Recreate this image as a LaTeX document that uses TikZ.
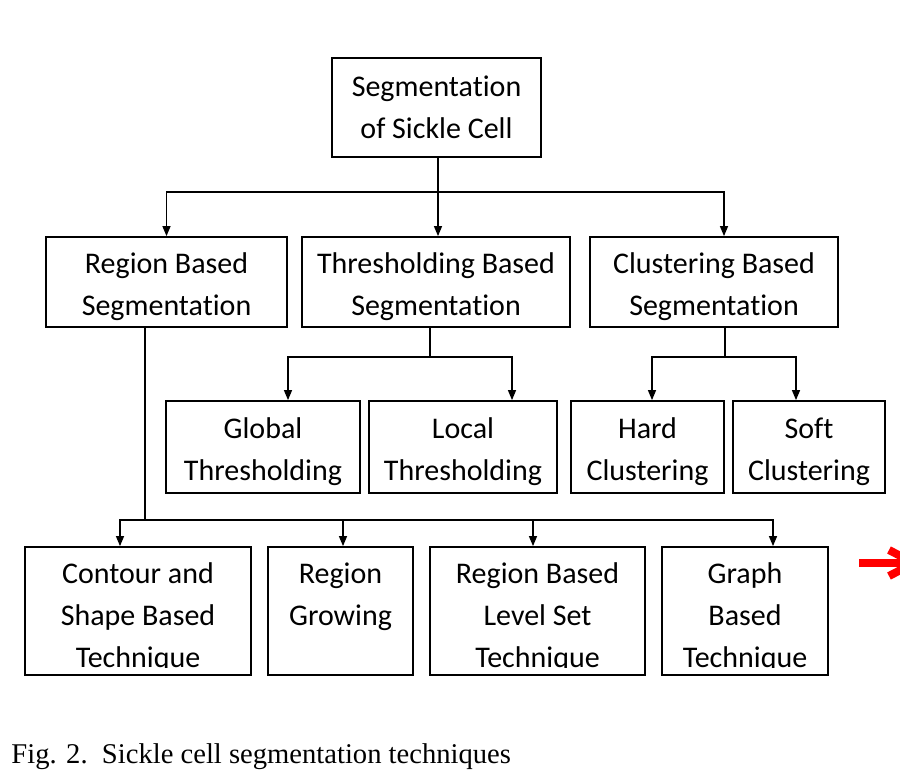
\documentclass[tikz,border=0pt]{standalone}
\usepackage{fontspec}
\setmainfont{Carlito}[Ligatures=NoCommon]
\newfontfamily\capfont{Liberation Serif}
\usetikzlibrary{positioning, arrows.meta}

\begin{document}
\begin{tikzpicture}[x=0.5pt, y=-0.5pt,
                    box/.style={draw, line width=0.9pt, align=center, inner sep=0pt, font=\fontsize{15pt}{21pt}\selectfont},
                    txt/.style={align=center, inner sep=0pt, font=\fontsize{15pt}{21pt}\selectfont},
                    link/.style={line width=0.65pt},
                    arr/.style={line width=0.65pt, -{Triangle[length=5pt, width=4pt]}}]
                    \useasboundingbox (0,0) rectangle (900,778);

                    % Nodes
                    \node[box, minimum width=104.5pt, minimum height=49.5pt] (seg) at (436.5,107.5) {Segmentation\\of Sickle Cell};

                    \node[box, minimum width=120.5pt, minimum height=45pt] (rbs) at (166.5,282) {\strut Region Based\\Segmentation};
                    \node[box, minimum width=134pt, minimum height=45pt] (tbs) at (436,282) {\strut Thresholding Based\\Segmentation};
                    \node[box, minimum width=124pt, minimum height=45pt] (cbs) at (714,282) {\strut Clustering Based\\Segmentation};

                    \node[box, minimum width=97pt, minimum height=46pt] (glt) at (263,447) {\strut Global\\Thresholding};
                    \node[box, minimum width=94pt, minimum height=46pt] (lot) at (463,447) {\strut Local\\Thresholding};
                    \node[box, minimum width=76.5pt, minimum height=46pt] (hdc) at (647.5,447) {\strut Hard\\Clustering};
                    \node[box, minimum width=76pt, minimum height=46pt] (sfc) at (809,447) {\strut Soft\\Clustering};

                    \node[box, minimum width=113pt, minimum height=64pt] (cst) at (138,611) {};
                    \node[box, minimum width=72.5pt, minimum height=64pt] (rgr) at (340.5,611) {};
                    \node[box, minimum width=107.5pt, minimum height=64pt] (rls) at (537.5,611) {};
                    \node[box, minimum width=83pt, minimum height=64pt] (grb) at (745,611) {};

                    % texts of the last row, cut at the bottom
                    \begin{scope}
                    \clip (0,540) rectangle (900,667);
                    \node[txt] (cst-t) at (138,617) {\strut Contour and\\Shape Based\\Technique\strut};
                    \node[txt] (rgr-t) at (340.5,617) {\strut Region\\Growing\\\strut};
                    \node[txt] (rls-t) at (537.5,617) {\strut Region Based\\Level Set\\Technique\strut};
                    \node[txt] (grb-t) at (745,617) {\strut Graph\\Based\\Technique\strut};
                    \end{scope}

                    % Edges
                    % seg to the three branches
                    \coordinate (j1) at (438,192);
                    \draw[link] (seg.south -| j1) -- (j1);
                    \draw[arr] (j1) -| (rbs);
                    \draw[arr] (j1) -- (j1 |- tbs.north);
                    \draw[arr] (j1) -| ([xshift=5pt]cbs.north);

                    % thresholding
                    \coordinate (j2) at (430,357);
                    \draw[link] (tbs.south -| j2) -- (j2);
                    \draw[arr] (j2) -| ([xshift=12.5pt]glt.north);
                    \draw[arr] (j2) -| ([xshift=24.5pt]lot.north);

                    % clustering
                    \coordinate (j3) at (725,357);
                    \draw[link] (cbs.south -| j3) -- (j3);
                    \draw[arr] (j3) -| ([xshift=2.25pt]hdc.north);
                    \draw[arr] (j3) -| ([xshift=-6.5pt]sfc.north);

                    % region based
                    \coordinate (j4) at (145,520);
                    \draw[link] (rbs.south -| j4) -- (j4);
                    \draw[arr] (j4) -| ([xshift=-9pt]cst.north);
                    \draw[arr] (j4) -| ([xshift=1.25pt]rgr.north);
                    \draw[arr] (j4) -| ([xshift=-2.25pt]rls.north);
                    \draw[arr] (j4) -| ([xshift=14pt]grb.north);

                    % red mark at the right edge
                    \draw[red, line width=4pt] (859,563) -- (912,563);
                    \draw[red, line width=4pt] (889,550) -- (914,563) -- (889,576);

                    % caption
                    \node[anchor=base west, inner sep=0pt, font=\capfont\fontsize{14.3pt}{17pt}\selectfont] (cap) at (11,763) {Fig. 2.\ \ Sickle cell segmentation techniques};

                \end{tikzpicture}
\end{document}
